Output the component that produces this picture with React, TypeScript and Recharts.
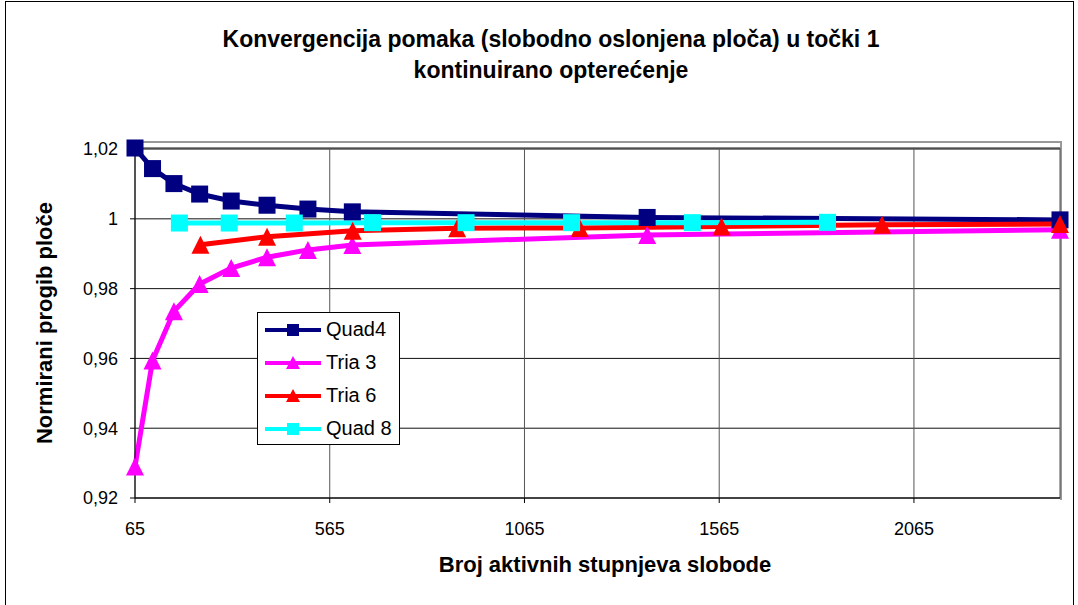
import React from 'react'
import { LineChart, Line, XAxis, YAxis, CartesianGrid } from 'recharts'

// broj stupnjeva slobode (DOF) po mrezama
const dofQuad4Tria3 = [65, 110, 165, 231, 312, 404, 509, 623, 1380, 2440]
const dofTria6 = [233, 404, 624, 892, 1207, 1571, 1983, 2440]
const dofQuad8 = [179, 307, 474, 675, 915, 1186, 1496, 1843]

const quad4 = [1.0203, 1.0144, 1.0101, 1.0071, 1.0051, 1.0039, 1.0028, 1.002, 1.0004, 0.9997]
const tria3 = [0.929, 0.9594, 0.9735, 0.9813, 0.9859, 0.989, 0.9911, 0.9925, 0.9954, 0.9969]
const tria6 = [0.9926, 0.9949, 0.9966, 0.9973, 0.9974, 0.9978, 0.9983, 0.9985]
const quad8 = [0.9988, 0.9988, 0.9988, 0.9989, 0.9989, 0.9989, 0.9989, 0.999]

const xTicks = [65, 565, 1065, 1565, 2065]
const yTicks = [0.92, 0.94, 0.96, 0.98, 1.0, 1.02]

const toRows = (xs: number[], ys: number[]) => xs.map((x, i) => ({ x, y: ys[i] }))

const SERIES = [
  { name: 'Quad4', color: '#000080', marker: 'square', data: toRows(dofQuad4Tria3, quad4) },
  { name: 'Tria 3', color: '#FF00FF', marker: 'triangle', data: toRows(dofQuad4Tria3, tria3) },
  { name: 'Tria 6', color: '#FF0000', marker: 'triangle', data: toRows(dofTria6, tria6) },
  { name: 'Quad 8', color: '#00FFFF', marker: 'square', data: toRows(dofQuad8, quad8) },
]

const FONT = '"Liberation Sans", Arial, sans-serif'

function markerShape(kind: string, color: string, size: number) {
  return (props: any) => {
    const { cx, cy, key } = props
    if (cx == null || cy == null) return <g key={key} />
    const h = size / 2
    if (kind === 'square') {
      return <rect key={key} x={cx - h} y={cy - h} width={size} height={size} fill={color} />
    }
    return (
      <polygon
        key={key}
        points={`${cx},${cy - h} ${cx + h},${cy + h} ${cx - h},${cy + h}`}
        fill={color}
      />
    )
  }
}

const fmtY = (v: number) =>
  v.toFixed(2).replace(/0+$/, '').replace(/\.$/, '').replace('.', ',')

function LegendBox() {
  return (
    <div
      style={{
        position: 'absolute',
        left: 257,
        top: 312,
        width: 141,
        height: 131,
        border: '1px solid #000',
        background: '#fff',
        fontFamily: FONT,
        fontSize: 20,
      }}
    >
      {SERIES.map((s) => (
        <div key={s.name} style={{ height: 33, display: 'flex', alignItems: 'center' }}>
          <svg width={66} height={20} style={{ marginLeft: 4, flex: 'none' }}>
            <line x1={3} y1={10} x2={59} y2={10} stroke={s.color} strokeWidth={4} />
            {s.marker === 'square' ? (
              <rect x={25} y={4} width={12} height={12} fill={s.color} />
            ) : (
              <polygon points="31,3 38,16 24,16" fill={s.color} />
            )}
          </svg>
          <span style={{ marginLeft: -2, whiteSpace: 'nowrap' }}>{s.name}</span>
        </div>
      ))}
    </div>
  )
}

export default function App() {
  return (
    <div style={{ position: 'relative', width: 1078, height: 605, overflow: 'hidden', background: '#fff', fontFamily: FONT }}>
      <style>{'body{margin:0}'}</style>
      <div style={{ position: 'absolute', left: 5, top: 1, width: 1067, height: 640, border: '1px solid #000' }} />
      <div
        style={{
          position: 'absolute', left: 12, top: 24, width: 1078, textAlign: 'center',
          fontWeight: 'bold', fontSize: 23, lineHeight: '31px',
        }}
      >
        Konvergencija pomaka (slobodno oslonjena ploča) u točki 1
        <br />
        kontinuirano opterećenje
      </div>
      <div
        style={{
          position: 'absolute', left: 45, top: 323, transform: 'translate(-50%, -50%) rotate(-90deg)',
          whiteSpace: 'nowrap', fontWeight: 'bold', fontSize: 22,
        }}
      >
        Normirani progib ploče
      </div>
      <div
        style={{
          position: 'absolute', left: 605, top: 565, transform: 'translate(-50%, -50%)',
          whiteSpace: 'nowrap', fontWeight: 'bold', fontSize: 22,
        }}
      >
        Broj aktivnih stupnjeva slobode
      </div>
      <div
        style={{
          position: 'absolute', left: 135, top: 141, width: 925, height: 357,
          borderTop: '2px solid #999', borderRight: '2px solid #999',
        }}
      />
      <div style={{ position: 'absolute', left: 0, top: 0 }}>
        <LineChart width={1078} height={605} margin={{ top: 148, right: 18, bottom: 27, left: 65 }}>
          <CartesianGrid horizontal={true} vertical={false} stroke="#111" />
          <CartesianGrid horizontal={false} vertical={true} stroke="#555" />
          <XAxis
            type="number"
            dataKey="x"
            domain={[65, 2440]}
            ticks={xTicks}
            interval={0}
            allowDuplicatedCategory={false}
            height={80}
            tickSize={5}
            tickMargin={19}
            stroke="#000"
            tick={{ fill: '#000', fontSize: 18, fontFamily: FONT }}
          />
          <YAxis
            type="number"
            domain={[0.92, 1.02]}
            ticks={yTicks}
            interval={0}
            width={70}
            tickSize={5}
            tickMargin={12}
            tickFormatter={fmtY}
            stroke="#000"
            tick={{ fill: '#000', fontSize: 18, fontFamily: FONT }}
          />
          {SERIES.map((s) => (
            <Line
              key={s.name}
              data={s.data}
              dataKey="y"
              name={s.name}
              type="linear"
              stroke={s.color}
              strokeWidth={5}
              dot={markerShape(s.marker, s.color, s.marker === 'square' ? 17 : 18)}
              activeDot={false}
              isAnimationActive={false}
            />
          ))}
        </LineChart>
      </div>
      <LegendBox />
    </div>
  )
}
